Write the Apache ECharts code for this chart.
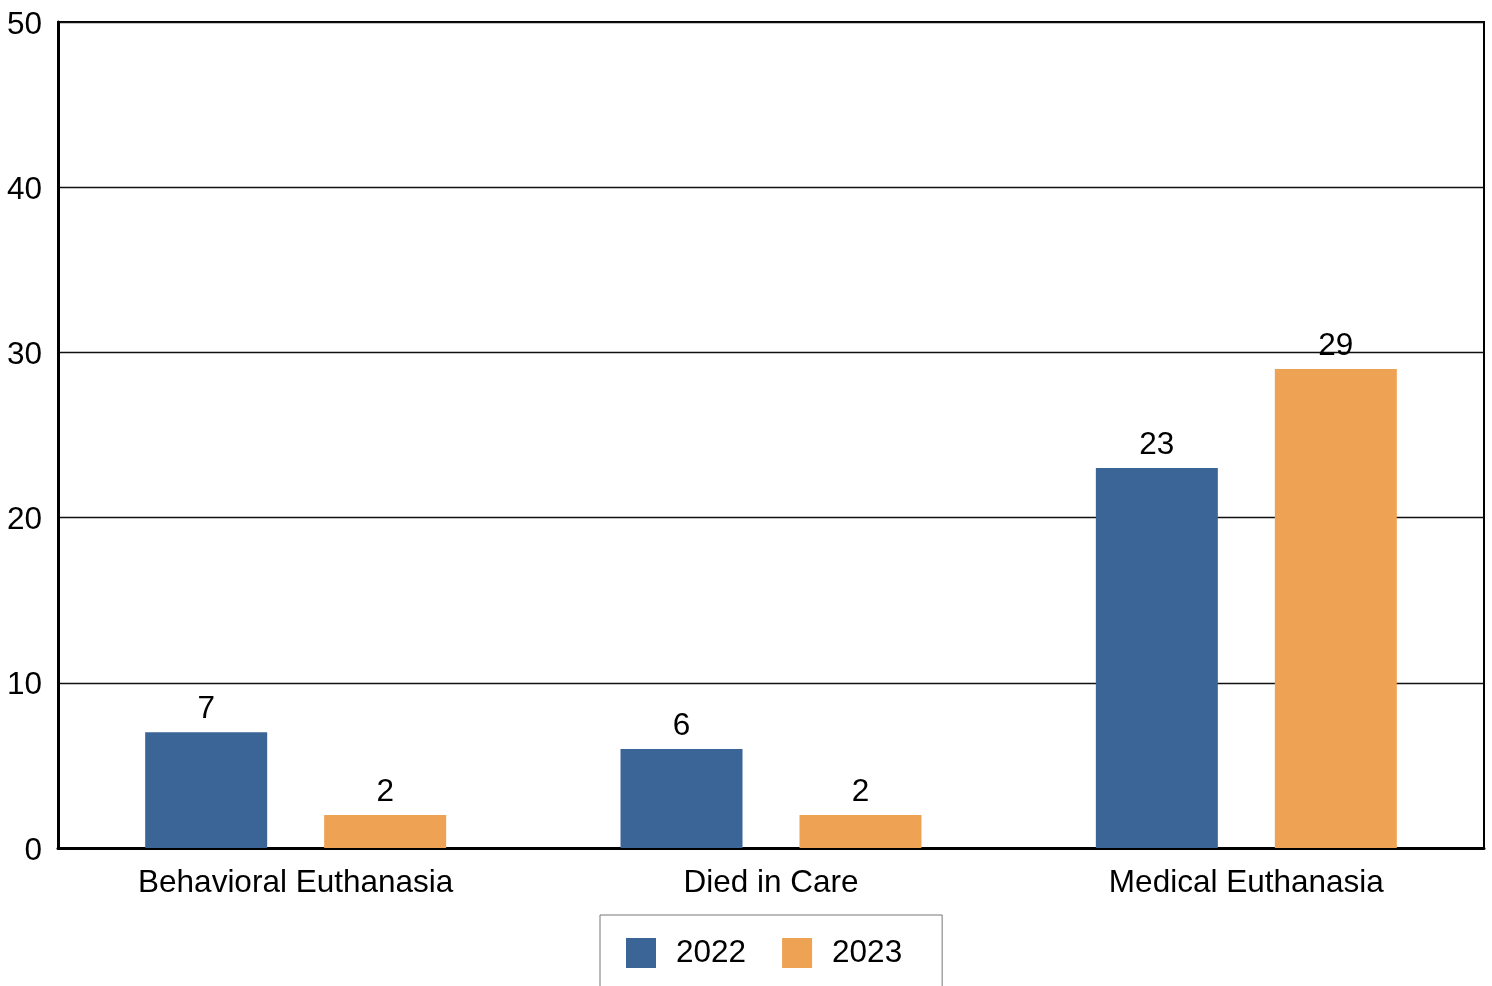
<!DOCTYPE html>
<html>
<head>
<meta charset="utf-8">
<script src="https://cdn.jsdelivr.net/npm/echarts@6/dist/echarts.min.js"></script>
<style>
html,body{margin:0;padding:0;background:#fff;}
#chart{width:1492px;height:986px;}
</style>
</head>
<body>
<div id="chart"></div>
<script>
const categories = ['Behavioral Euthanasia', 'Died in Care', 'Medical Euthanasia'];
const seriesNames = ['2022', '2023'];
const values2022 = [7, 6, 23];
const values2023 = [2, 2, 29];
const yTicks = [0, 10, 20, 30, 40, 50];

const FONT = '"Liberation Sans", Arial, sans-serif';
const colors = ['#3A6596', '#EEA253'];

const chart = echarts.init(document.getElementById('chart'), null, {renderer: 'canvas'});
const labelCfg = {
  show: true, position: 'top', distance: 7,
  color: '#000', fontSize: 31.5, fontFamily: FONT
};
chart.setOption({
  animation: false,
  backgroundColor: '#fff',
  textStyle: {fontFamily: FONT},
  grid: {
    left: 58, right: 8, top: 22, bottom: 138,
    show: true, borderColor: '#000', borderWidth: 2, backgroundColor: 'transparent'
  },
  legend: {
    left: 600, top: 915,
    padding: [22, 40, 22, 26],
    borderColor: '#777', borderWidth: 1,
    itemWidth: 30, itemHeight: 30, itemGap: 36,
    icon: 'rect',
    textStyle: {fontSize: 31.5, color: '#000', fontFamily: FONT, padding: [3, 0, 0, 15]},
    data: seriesNames
  },
  xAxis: {
    type: 'category',
    data: categories,
    axisLine: {show: true, lineStyle: {color: '#000', width: 3}},
    axisTick: {show: false},
    axisLabel: {color: '#000', fontSize: 31.5, fontFamily: FONT, margin: 19}
  },
  yAxis: {
    type: 'value',
    min: yTicks[0], max: yTicks[yTicks.length - 1], interval: 10,
    axisLine: {show: true, lineStyle: {color: '#000', width: 3}},
    axisTick: {show: false},
    axisLabel: {color: '#000', fontSize: 31.5, fontFamily: FONT, margin: 16,
                verticalAlign: 'top', lineHeight: 6},
    splitLine: {show: true, lineStyle: {color: '#111', width: 1.4}}
  },
  series: [
    {name: seriesNames[0], type: 'bar', data: values2022, barWidth: 122, barGap: '46.7%',
     itemStyle: {color: colors[0]}, label: labelCfg},
    {name: seriesNames[1], type: 'bar', data: values2023, barWidth: 122, barGap: '46.7%',
     itemStyle: {color: colors[1]}, label: labelCfg}
  ]
});
</script>
</body>
</html>
